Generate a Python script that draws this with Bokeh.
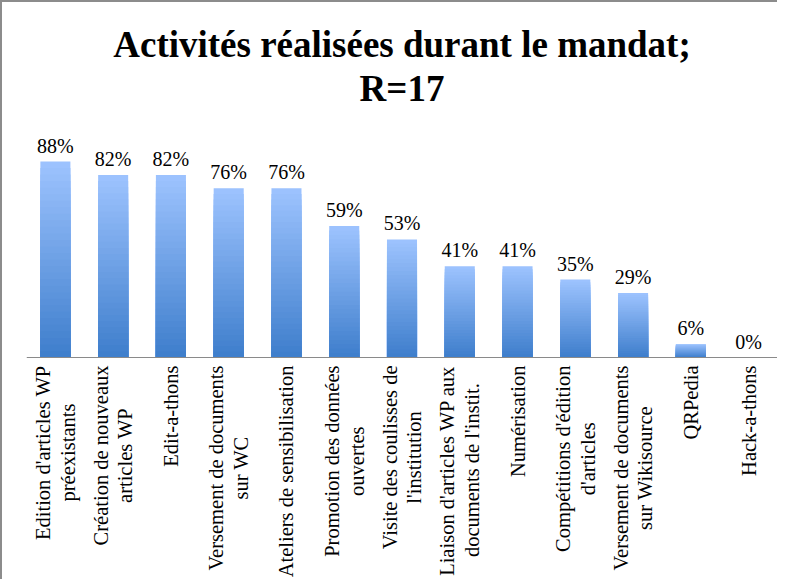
import math, glob, os
from bokeh.plotting import figure
from bokeh.models import ColumnDataSource, FactorRange, Range1d, Title, Span
from bokeh.core.properties import value
from bokeh.embed import file_html
from bokeh.resources import INLINE

# ---- data ----
categories = [
    "Edition d'articles WP\npréexistants",
    "Création de nouveaux\narticles WP",
    "Edit-a-thons",
    "Versement de documents\nsur WC",
    "Ateliers de sensibilisation",
    "Promotion des données\nouvertes",
    "Visite des coulisses de\nl'institution",
    "Liaison d'articles WP aux\ndocuments de l'instit.",
    "Numérisation",
    "Compétitions d'édition\nd'articles",
    "Versement de documents\nsur Wikisource",
    "QRPedia",
    "Hack-a-thons",
]
percent_values = [88, 82, 82, 76, 76, 59, 53, 41, 41, 35, 29, 6, 0]
value_labels = ["88%", "82%", "82%", "76%", "76%", "59%", "53%", "41%", "41%",
                "35%", "29%", "6%", "0%"]
title_line1 = "Activités réalisées durant le mandat;"
title_line2 = "R=17"

TICK_FONT = "Liberation Serif"
TICK_SIZE = 20.5
STANDOFF = 8

# ---- text measurement (to centre the 2nd line of each label on the 1st) ----
def _font_path():
    for pat in ("/usr/share/fonts/**/LiberationSerif-Regular.ttf",
                "/usr/local/share/fonts/**/LiberationSerif-Regular.ttf",
                os.path.expanduser("~/.fonts/**/LiberationSerif-Regular.ttf"),
                "/usr/share/fonts/**/LiberationSerif-Regular*.ttf"):
        hits = glob.glob(pat, recursive=True)
        if hits:
            return hits[0]
    return None

_font = None
try:
    _path = _font_path()
    if _path:
        from PIL import ImageFont
        _font = ImageFont.truetype(_path, 200)
except Exception:
    _font = None

def text_width(s, size):
    if _font is not None:
        return _font.getlength(s) * size / 200.0
    return len(s) * 0.45 * size

# ---- gradient: nested bars from the values, tallest (lightest) drawn first ----
dark = (62, 126, 204)
light = (158, 196, 255)
N = 30
bx, btop, bcol = [], [], []
for j in range(N):
    frac = (N - j) / N
    t = (N - j - 0.5) / N
    r = int(dark[0] + (light[0] - dark[0]) * t)
    g = int(dark[1] + (light[1] - dark[1]) * t)
    b = int(dark[2] + (light[2] - dark[2]) * t)
    for c, v in zip(categories, percent_values):
        bx.append(c)
        btop.append(v / 100 * frac)
        bcol.append("#%02x%02x%02x" % (r, g, b))

bands = ColumnDataSource(dict(x=bx, top=btop, color=bcol))
labels = ColumnDataSource(dict(x=categories, y=[v / 100 for v in percent_values], t=value_labels))

# category label lines (first line end-aligned at the axis, second line centred on it)
half = 0.6 * TICK_SIZE
l1x, l1t, l1dx = [], [], []
l2x, l2t, l2dx, l2dy = [], [], [], []
for c in categories:
    parts = c.split("\n")
    l1x.append(c)
    l1t.append(parts[0])
    if len(parts) == 2:
        l1dx.append(-half)
        l2x.append(c)
        l2t.append(parts[1])
        l2dx.append(half)
        l2dy.append(STANDOFF + text_width(parts[0], TICK_SIZE) / 2.0)
    else:
        l1dx.append(0.0)
line1_src = ColumnDataSource(dict(x=l1x, t=l1t, dx=l1dx))
line2_src = ColumnDataSource(dict(x=l2x, t=l2t, dx=l2dx, dy=l2dy))

PX_PER_UNIT = 222.7
p = figure(
    x_range=FactorRange(factors=categories, range_padding=0),
    y_range=Range1d(-222 / PX_PER_UNIT, 248 / PX_PER_UNIT),
    frame_width=751, frame_height=470,
    output_backend="svg", toolbar_location=None,
    min_border_left=24, min_border_right=0, min_border_top=107, min_border_bottom=0,
    title=None,
)

t2 = Title(text=title_line2, align="center", text_font="Liberation Serif",
           text_font_style="bold", text_font_size="37px", text_color="black",
           standoff=2)
t1 = Title(text=title_line1, align="center", text_font="Liberation Serif",
           text_font_style="bold", text_font_size="37px", text_color="black",
           standoff=0)
p.add_layout(t2, "above")
p.add_layout(t1, "above")

p.vbar(x="x", bottom=0, top="top", width=0.52, fill_color="color",
       line_color=None, source=bands)
p.text(x="x", y="y", text="t", source=labels, y_offset=-5,
       text_align="center", text_baseline="bottom",
       text_font=value("Liberation Serif"), text_font_size="20px", text_color="black")

# baseline (category axis line)
p.add_layout(Span(location=0, dimension="width", line_color="#8a8a8a", line_width=1))

# category labels
p.text(x="x", y=0, text="t", source=line1_src, angle=math.pi / 2,
       x_offset="dx", y_offset=STANDOFF, text_align="right", text_baseline="middle",
       text_font=value(TICK_FONT), text_font_size="%gpx" % TICK_SIZE, text_color="black")
p.text(x="x", y=0, text="t", source=line2_src, angle=math.pi / 2,
       x_offset="dx", y_offset="dy", text_align="center", text_baseline="middle",
       text_font=value(TICK_FONT), text_font_size="%gpx" % TICK_SIZE, text_color="black")

p.xaxis.visible = False
p.yaxis.visible = False
p.xgrid.grid_line_color = None
p.ygrid.grid_line_color = None
p.outline_line_color = None

p.styles = {"border-top": "2px solid #8c8c8c", "border-left": "2px solid #8c8c8c"}

open("out.html", "w").write(file_html(p, INLINE))
